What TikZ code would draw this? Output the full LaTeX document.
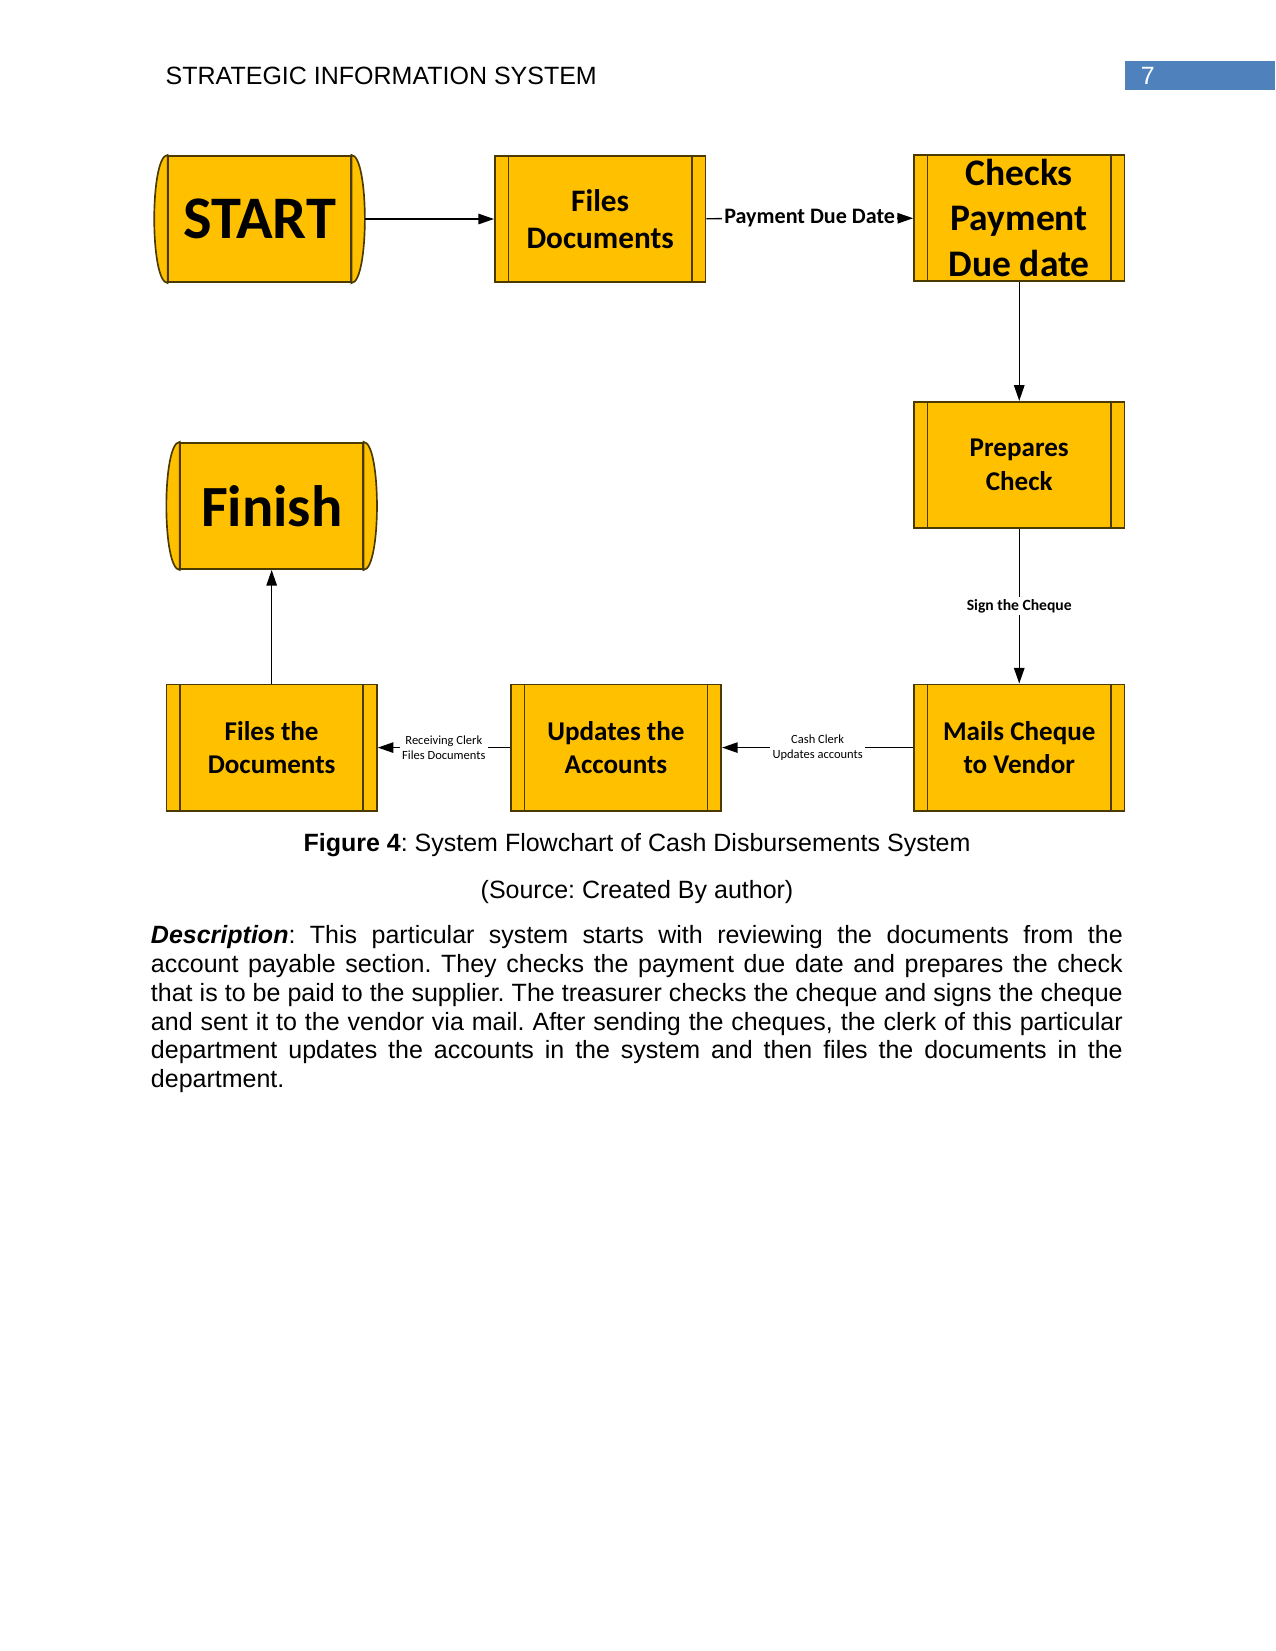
\documentclass[tikz,border=0pt]{standalone}
\usepackage{fontspec}
\setmainfont{Liberation Sans}
\newfontfamily\calib{Carlito}
\usetikzlibrary{arrows.meta}
\definecolor{gold}{HTML}{FFC000}
\definecolor{bordc}{HTML}{4A3A00}
\definecolor{hdrblue}{HTML}{4F81BD}
\begin{document}
\frenchspacing
\begin{tikzpicture}[x=0.50535pt,y=-0.50535pt,
 proc/.style={draw=bordc,fill=gold,line width=0.8pt,minimum width=101.07pt,minimum height=60.64pt,inner sep=0pt,align=center,text=black,
   path picture={\draw[bordc,line width=0.8pt] ([xshift=6.57pt]path picture bounding box.north west) -- ([xshift=6.57pt]path picture bounding box.south west) ([xshift=-6.57pt]path picture bounding box.north east) -- ([xshift=-6.57pt]path picture bounding box.south east);}},
 term/.style={draw=bordc,fill=gold,line width=0.8pt,minimum width=87.4pt,minimum height=60.64pt,inner sep=0pt,align=center,text=black},
 bulge/.style={draw=bordc,fill=gold,line width=0.8pt},
 flow/.style={draw=black,line width=0.7pt,-{Triangle[length=7.5pt,width=5pt]}},
 elab/.style={fill=white,inner sep=1pt,align=center,text=black},
 mid/.style={font=\calib\bfseries\fontsize{13pt}{16pt}\selectfont},
 body/.style={font=\fontsize{12pt}{13.8pt}\selectfont}
]
\useasboundingbox (0,0) rectangle (1211,1568);
% header
\node[body,anchor=west,inner sep=0pt] (hdr) at (157,72) {STRATEGIC INFORMATION SYSTEM};
\fill[hdrblue] (1068,58) rectangle (1211,85);
\node[body,text=white,inner sep=0pt] (pg) at (1090,72) {7};
% terminators
\node[term,font=\calib\bfseries\fontsize{29pt}{34pt}\selectfont] (start) at (246.5,208) {START};
\filldraw[bulge] (start.north west) .. controls +(-17,0) and +(-17,0) .. (start.south west) -- cycle;
\filldraw[bulge] (start.north east) .. controls +(17,0) and +(17,0) .. (start.south east) -- cycle;
\node[term,font=\calib\bfseries\fontsize{28pt}{34pt}\selectfont] (fin) at (258,480.5) {Finish};
\filldraw[bulge] (fin.north west) .. controls +(-17,0) and +(-17,0) .. (fin.south west) -- cycle;
\filldraw[bulge] (fin.north east) .. controls +(17,0) and +(17,0) .. (fin.south east) -- cycle;
% processes
\node[proc,font=\calib\bfseries\fontsize{15pt}{17.7pt}\selectfont] (fd) at (570,208) {Files\\Documents};
\node[proc,font=\calib\bfseries\fontsize{18pt}{22pt}\selectfont] (cp) at (968,207) {Checks\\Payment\\Due date};
\node[proc,mid] (pc) at (968,441.5) {Prepares\\Check};
\node[proc,mid] (mc) at (968,710) {Mails Cheque\\to Vendor};
\node[proc,mid] (ua) at (585,710) {Updates the\\Accounts};
\node[proc,mid] (ftd) at (258,710) {Files the\\Documents};
% connectors
\draw[flow] ([xshift=6.3pt]start.east) -- (fd);
\draw[flow] (fd) -- (cp) node[elab,midway,font=\calib\bfseries\fontsize{10.6pt}{12pt}\selectfont] (l1) {Payment Due Date};
\draw[flow] (cp) -- (pc);
\draw[flow] (pc) -- (mc) node[elab,midway,font=\calib\bfseries\fontsize{7.5pt}{8.5pt}\selectfont] (l2) {Sign the Cheque};
\draw[flow] (mc) -- (ua) node[elab,midway,font=\calib\fontsize{6pt}{7pt}\selectfont] (l3) {Cash Clerk\\Updates accounts};
\draw[flow] (ua) -- (ftd) node[elab,midway,font=\calib\fontsize{6pt}{7pt}\selectfont] (l4) {Receiving Clerk\\Files Documents};
\draw[flow] (ftd) -- (fin);
% caption
\node[body,inner sep=0pt] (cap) at (605,803) {\textbf{Figure 4}: System Flowchart of Cash Disbursements System};
\node[body,inner sep=0pt] (src) at (605,847) {(Source: Created By author)};
\node[body,anchor=north west,inner sep=0pt,text width=466.4pt,align=justify] (desc) at (143,877) {\strut\textbf{\textit{Description}}: This particular system starts with reviewing the documents from the\linebreak account payable section. They checks the payment due date and prepares the check\linebreak that is to be paid to the supplier. The treasurer checks the cheque and signs the cheque\linebreak and sent it to the vendor via mail. After sending the cheques, the clerk of this particular\linebreak department updates the accounts in the system and then files the documents in the\linebreak department.};
\end{tikzpicture}
\end{document}
